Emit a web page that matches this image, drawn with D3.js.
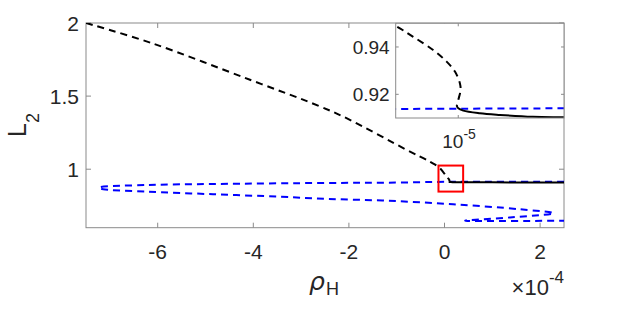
<!DOCTYPE html>
<html lang="en">
<head>
<meta charset="utf-8">
<title>L2 vs rho_H</title>
<script src="https://cdnjs.cloudflare.com/ajax/libs/d3/7.8.5/d3.min.js"></script>
<style>
  body { margin: 0; background: #fff; }
  text { font-family: "Liberation Sans", Arial, sans-serif; fill: #262626; }
</style>
</head>
<body>
<div id="chart"></div>
<script>
// x values in units of 1e-4
var xTicks = [-6, -4, -2, 0, 2];
var yTicks = [1, 1.5, 2];
var insetXTicks = [0.1];
var insetYTicks = [0.92, 0.94];

var blackDashX = [-7.5, -6.13, -4.07, -2.6, -2.05, -0.79, -0.30, -0.094, 0.03, 0.0453, 0.056, 0.0724, 0.0861, 0.0958, 0.1021, 0.103, 0.1, 0.098];
var blackDashY = [2.0, 1.863, 1.612, 1.429, 1.349, 1.132, 1.05, 1.007, 0.955, 0.9486, 0.9443, 0.9387, 0.9338, 0.9296, 0.9247, 0.9218, 0.9176, 0.9151];

var blackSolidX = [0.098, 0.1, 0.1067, 0.132, 0.171, 0.261, 0.385, 1.0, 2.5];
var blackSolidY = [0.9151, 0.9141, 0.9131, 0.912, 0.9113, 0.9105, 0.9103, 0.9100, 0.9098];

var blueX = [2.5, 0.4, 0.04, -1.21, -2.46, -4.84, -6.23, -7.21, -7.23, -7.14, -6.23, -4.84, -3.44, -2.46, -1.21, 0.18, 1.58, 2.28, 1.37, 0.43, 2.5];
var blueY = [0.9142, 0.9141, 0.9138, 0.908, 0.906, 0.899, 0.892, 0.877, 0.872, 0.863, 0.847, 0.829, 0.812, 0.797, 0.785, 0.760, 0.726, 0.699, 0.670, 0.648, 0.648];

var boxX = [-0.126, 0.39];
var boxY = [0.847, 1.025];

(function() {
var W = 623, H = 309;
var svg = d3.select("#chart").append("svg").attr("width", W).attr("height", H);

var mL = 86, mR = 564, mT = 23, mB = 227.7;
var x = d3.scaleLinear().domain([-7.5, 2.5]).range([mL, mR]);
var y = d3.scaleLinear().domain([0.6, 2]).range([mB, mT]);

function pts(xs, ys) {
    return xs.map(function(d, i) { return {x: d, y: ys[i]}; });
}

svg.append("clipPath").attr("id", "mainclip").append("rect")
    .attr("x", mL).attr("y", mT).attr("width", mR - mL).attr("height", mB - mT);

var axisColor = "#8a8a8a";
var tickLen = 5;

// box and ticks
svg.append("rect").attr("x", mL).attr("y", mT).attr("width", mR - mL).attr("height", mB - mT)
    .attr("fill", "none").attr("stroke", axisColor).attr("stroke-width", 1);

xTicks.forEach(function(t) {
    svg.append("line").attr("x1", x(t)).attr("x2", x(t)).attr("y1", mB).attr("y2", mB - tickLen).attr("stroke", axisColor);
    svg.append("line").attr("x1", x(t)).attr("x2", x(t)).attr("y1", mT).attr("y2", mT + tickLen).attr("stroke", axisColor);
    svg.append("text").attr("x", x(t)).attr("y", mB + 31).attr("text-anchor", "middle")
        .attr("font-size", "21px").text(t);
});
yTicks.forEach(function(t) {
    svg.append("line").attr("x1", mL).attr("x2", mL + tickLen).attr("y1", y(t)).attr("y2", y(t)).attr("stroke", axisColor);
    svg.append("line").attr("x1", mR).attr("x2", mR - tickLen).attr("y1", y(t)).attr("y2", y(t)).attr("stroke", axisColor);
    svg.append("text").attr("x", mL - 7).attr("y", y(t) + 7.5).attr("text-anchor", "end")
        .attr("font-size", "21px").text(t);
});

var line = d3.line().x(function(d) { return x(d.x); }).y(function(d) { return y(d.y); })
    .curve(d3.curveCatmullRom.alpha(0.5));

var g = svg.append("g").attr("clip-path", "url(#mainclip)");
g.append("path").datum(pts(blueX, blueY)).attr("d", line)
    .attr("fill", "none").attr("stroke", "#0000ff").attr("stroke-width", 2).attr("stroke-dasharray", "7,5");
g.append("path").datum(pts(blackDashX, blackDashY)).attr("d", line)
    .attr("fill", "none").attr("stroke", "#000").attr("stroke-width", 2).attr("stroke-dasharray", "7,5");
g.append("path").datum(pts(blackSolidX, blackSolidY)).attr("d", line)
    .attr("fill", "none").attr("stroke", "#000").attr("stroke-width", 2);

// red zoom box
svg.append("rect").attr("x", x(boxX[0])).attr("y", y(boxY[1]))
    .attr("width", x(boxX[1]) - x(boxX[0])).attr("height", y(boxY[0]) - y(boxY[1]))
    .attr("fill", "none").attr("stroke", "#ff0000").attr("stroke-width", 2);

// axis labels
var yl = svg.append("text").attr("transform", "translate(26,125) rotate(-90)")
    .attr("text-anchor", "middle").attr("font-size", "25px");
yl.append("tspan").text("L");
yl.append("tspan").attr("font-size", "18px").attr("dy", 13).text("2");

var xl = svg.append("text").attr("x", 309).attr("y", 290).attr("font-size", "25px");
xl.append("tspan").style("font-family", "'DejaVu Sans'").style("font-style", "italic").text("\u03c1");
xl.append("tspan").attr("font-size", "18px").attr("dy", 5).attr("dx", 1).text("H");

var ex = svg.append("text").attr("x", mR).attr("y", 295).attr("text-anchor", "end").attr("font-size", "22px");
ex.append("tspan").text("\u00d710");
ex.append("tspan").attr("font-size", "17px").attr("dy", -12).text("-4");

// inset
var il = 395.7, ir = 564, it = 23.3, ib = 118;
var xi = d3.scaleLog().domain([0.0447, 0.39]).range([il, ir]);
var yi = d3.scaleLinear().domain([0.91, 0.95]).range([ib, it]);

svg.append("clipPath").attr("id", "insetclip").append("rect")
    .attr("x", il).attr("y", it).attr("width", ir - il).attr("height", ib - it);

svg.append("rect").attr("x", il).attr("y", it).attr("width", ir - il).attr("height", ib - it)
    .attr("fill", "#fff");

var iline = d3.line().defined(function(d) { return d.x > 0; })
    .x(function(d) { return xi(d.x); }).y(function(d) { return yi(d.y); })
    .curve(d3.curveCatmullRom.alpha(0.5));

var gi = svg.append("g").attr("clip-path", "url(#insetclip)");
gi.append("path").datum(pts(blueX, blueY)).attr("d", iline)
    .attr("fill", "none").attr("stroke", "#0000ff").attr("stroke-width", 2).attr("stroke-dasharray", "7,5");
gi.append("path").datum(pts(blackDashX, blackDashY)).attr("d", iline)
    .attr("fill", "none").attr("stroke", "#000").attr("stroke-width", 2).attr("stroke-dasharray", "7,5");
gi.append("path").datum(pts(blackSolidX, blackSolidY)).attr("d", iline)
    .attr("fill", "none").attr("stroke", "#000").attr("stroke-width", 2);

svg.append("rect").attr("x", il).attr("y", it).attr("width", ir - il).attr("height", ib - it)
    .attr("fill", "none").attr("stroke", axisColor).attr("stroke-width", 1);

var iTick = 3;
insetXTicks.forEach(function(t) {
    svg.append("line").attr("x1", xi(t)).attr("x2", xi(t)).attr("y1", ib).attr("y2", ib - iTick).attr("stroke", axisColor);
    svg.append("line").attr("x1", xi(t)).attr("x2", xi(t)).attr("y1", it).attr("y2", it + iTick).attr("stroke", axisColor);
    var lt = svg.append("text").attr("x", xi(t) - 16).attr("y", ib + 30).attr("font-size", "19px");
    lt.append("tspan").text("10");
    lt.append("tspan").attr("font-size", "14px").attr("dy", -9).text("-5");
});
insetYTicks.forEach(function(t) {
    svg.append("line").attr("x1", il).attr("x2", il + iTick).attr("y1", yi(t)).attr("y2", yi(t)).attr("stroke", axisColor);
    svg.append("line").attr("x1", ir).attr("x2", ir - iTick).attr("y1", yi(t)).attr("y2", yi(t)).attr("stroke", axisColor);
    svg.append("text").attr("x", il - 6).attr("y", yi(t) + 7).attr("text-anchor", "end")
        .attr("font-size", "19px").text(t);
});
})();
</script>
</body>
</html>
